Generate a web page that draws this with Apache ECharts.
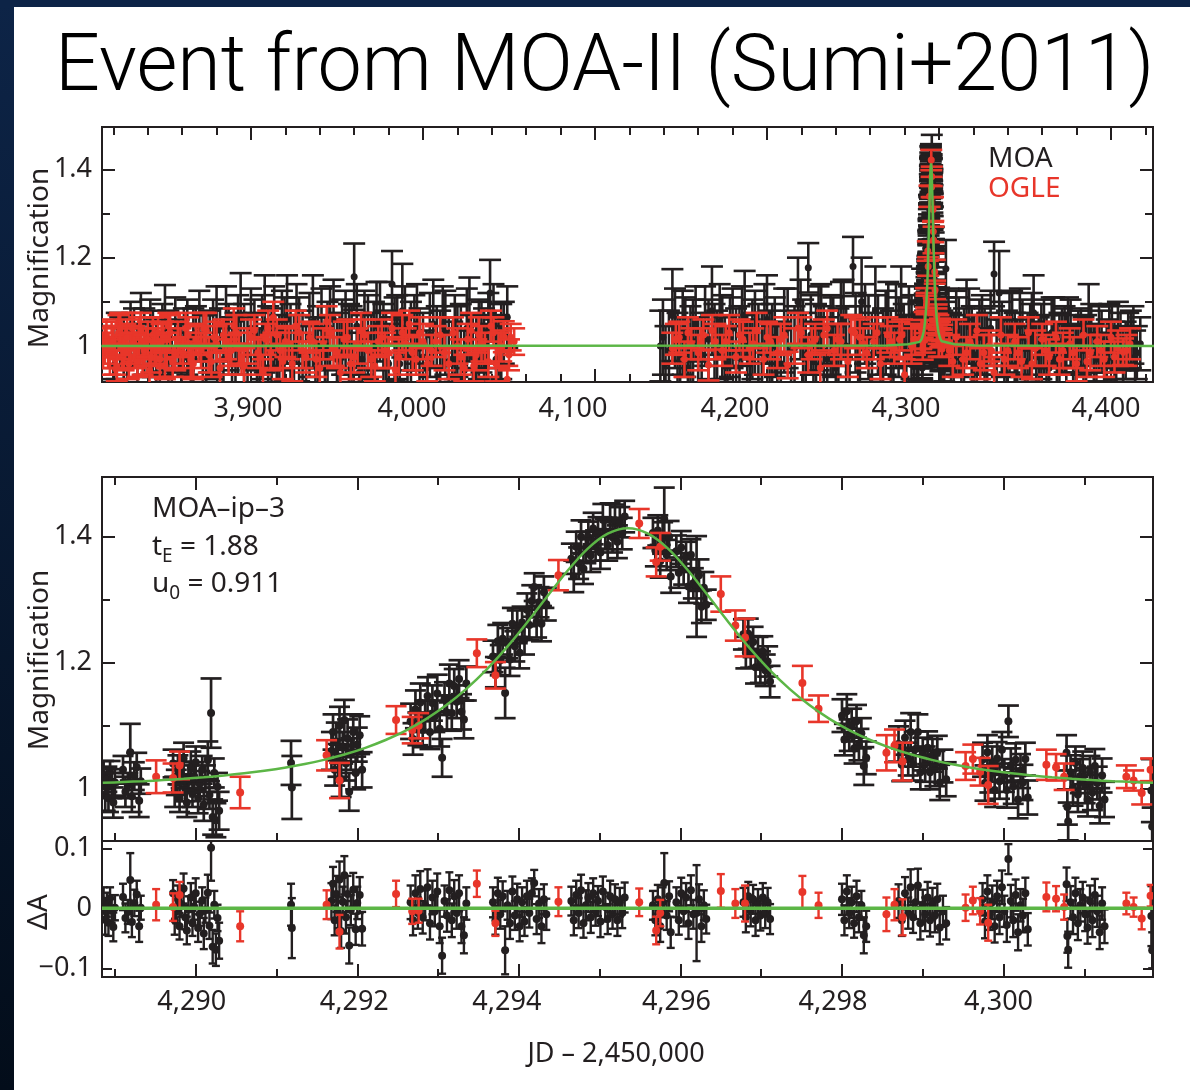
<!DOCTYPE html>
<html>
<head>
<meta charset="utf-8">
<script src="https://cdn.jsdelivr.net/npm/echarts@6.0.0/dist/echarts.min.js"></script>
<style>
html,body{margin:0;padding:0;background:#fff;}
#chart{width:1190px;height:1090px;}
</style>
</head>
<body>
<div id="chart"></div>
<script>
// ---------------- DATA ----------------
// Tick labels
const TOP_X_TICKS = [3900, 4000, 4100, 4200, 4300, 4400];
const TOP_X_LABELS = ['3,900', '4,000', '4,100', '4,200', '4,300', '4,400'];
const TOP_X_MINOR = [3820,3840,3860,3880,3920,3940,3960,3980,4020,4040,4060,4080,4120,4140,4160,4180,4220,4240,4260,4280,4320,4340,4360,4380,4420];
const BOT_X_TICKS = [4290, 4292, 4294, 4296, 4298, 4300];
const BOT_X_LABELS = ['4,290', '4,292', '4,294', '4,296', '4,298', '4,300'];
const BOT_X_MINOR = [4289, 4291, 4293, 4295, 4297, 4299, 4301];
const MAG_TICKS = [1, 1.2, 1.4];
const MAG_LABELS = ['1', '1.2', '1.4'];
const MAG_MINOR = [1.1, 1.3];
const RES_TICKS = [-0.1, 0, 0.1];
const RES_LABELS = ['\u22120.1', '0', '0.1'];

// Full-season MOA (top panel, outside the zoomed event)
const BASE_MOA_T = [
 3820,3824,3828,3832,3836,3840,3843,3847,3850,3854,
 3858,3861,3865,3868,3872,3876,3880,3884,3887,3891,
 3894,3898,3902,3905,3908,3912,3915,3918,3921,3925,
 3928,3932,3936,3939,3943,3946,3950,3953,3957,3960,
 3963,3966,3970,3973,3977,3980,3982,3985,3988,3991,
 3995,3998,4002,4006,4010,4013,4017,4020,4024,4027,
 4031,4034,4037,4039,4041,4044,4047,
 4138,4141,4145,4148,4151,4154,4157,4160,4164,4168,
 4171,4174,4177,4180,4184,4187,4190,4193,4197,4200,
 4203,4206,4210,4214,4218,4221,4224,4227,4230,4233,
 4237,4240,4243,4246,4250,4253,4255,4259,4263,4266,
 4269,4272,4275,4278,4281,4284,4287,4303,4304,4307,
 4310,4313,4316,4319,4322,4325,4328,4332,4335,4338,
 4341,4344,4347,4350,4353,4355,4358,4361,4364,4367,
 4370,4373,4375,4378,4381,4384,4387,4390,4393,4396,
 4399,4402,4404,4407,4410,4413,4415];
const BASE_MOA_A = [
 0.985,1.010,0.970,1.020,1.050,0.990,1.005,0.960,1.040,0.975,
 1.000,1.015,0.955,1.030,0.990,1.010,1.035,0.970,1.020,0.995,
 1.060,0.980,1.025,0.965,1.050,1.000,0.975,1.035,1.060,0.990,
 1.015,0.960,1.055,1.000,0.980,1.040,0.970,1.020,0.995,1.157,
 0.940,1.030,0.985,1.045,1.000,0.960,1.140,1.020,1.080,0.975,
 1.030,0.995,0.950,1.050,0.990,1.030,0.970,1.010,0.945,1.060,
 0.985,1.020,0.960,1.120,1.075,0.990,1.030,
 1.000,0.960,1.070,0.985,1.030,0.950,1.010,0.975,1.045,1.080,
 0.990,1.020,0.960,1.040,0.995,1.070,0.970,1.030,0.985,1.060,
 1.000,0.955,1.035,0.990,1.100,1.010,1.177,0.965,1.040,0.990,
 1.025,0.950,1.050,1.000,1.180,0.975,1.100,1.020,1.080,0.960,
 1.030,0.990,1.045,1.085,0.980,1.020,0.960,1.010,1.175,0.985,
 1.030,0.970,1.060,1.000,0.955,1.025,0.990,1.163,1.120,0.975,
 1.030,0.990,1.045,0.965,1.010,1.075,0.985,1.020,0.950,1.035,
 0.995,1.015,1.040,0.970,1.010,0.990,1.065,0.980,1.015,0.960,
 1.025,0.990,1.035,0.970,1.010,1.025,0.985];
const BASE_MOA_E = [
 0.060,0.055,0.070,0.065,0.070,0.060,0.075,0.060,0.098,0.065,
 0.060,0.070,0.075,0.060,0.080,0.070,0.100,0.070,0.075,0.080,
 0.105,0.085,0.080,0.075,0.110,0.085,0.080,0.090,0.100,0.080,
 0.095,0.085,0.105,0.090,0.085,0.095,0.090,0.085,0.100,0.075,
 0.090,0.095,0.090,0.100,0.095,0.090,0.075,0.095,0.106,0.090,
 0.085,0.090,0.085,0.100,0.090,0.095,0.085,0.080,0.090,0.095,
 0.085,0.080,0.090,0.075,0.065,0.080,0.070,
 0.080,0.085,0.104,0.090,0.095,0.090,0.095,0.090,0.090,0.100,
 0.090,0.095,0.085,0.090,0.095,0.100,0.090,0.095,0.090,0.100,
 0.095,0.090,0.095,0.090,0.100,0.095,0.056,0.090,0.095,0.100,
 0.090,0.095,0.095,0.090,0.067,0.090,0.100,0.095,0.100,0.090,
 0.095,0.090,0.095,0.095,0.090,0.095,0.090,0.090,0.065,0.090,
 0.095,0.090,0.090,0.090,0.085,0.090,0.085,0.073,0.095,0.085,
 0.090,0.085,0.085,0.080,0.085,0.085,0.080,0.085,0.080,0.075,
 0.080,0.075,0.070,0.075,0.070,0.075,0.075,0.070,0.075,0.070,
 0.070,0.065,0.065,0.070,0.065,0.065,0.060];

// More full-season MOA points: [JD, magnification, error]
const MORE_MOA = [
 [3822,1.000,0.075],[3826,0.985,0.080],[3830,1.030,0.070],[3834,0.965,0.085],[3838,1.010,0.075],
 [3841.5,1.040,0.065],[3845,0.975,0.085],[3848.5,1.015,0.080],[3852,0.990,0.090],[3856,1.035,0.075],
 [3859.5,0.960,0.090],[3863,1.020,0.085],[3866.5,0.995,0.090],[3870,1.045,0.080],[3874,0.975,0.095],
 [3878,1.015,0.090],[3882,0.990,0.095],[3885.5,1.050,0.085],[3889,0.965,0.100],[3892.5,1.025,0.090],
 [3896,1.000,0.095],[3900,1.040,0.090],[3903.5,0.975,0.100],[3906.5,1.020,0.095],[3910,0.990,0.100],
 [3913.5,1.045,0.090],[3916.5,0.970,0.100],[3919.5,1.015,0.095],[3923,0.995,0.100],[3926.5,1.050,0.090],
 [3930,0.980,0.100],[3934,1.025,0.095],[3937.5,0.965,0.100],[3941,1.040,0.090],[3944.5,1.000,0.100],
 [3948,1.060,0.090],[3951.5,0.975,0.100],[3955,1.030,0.095],[3958.5,0.990,0.100],[3961.5,1.045,0.095],
 [3964.5,0.970,0.100],[3968,1.020,0.095],[3971.5,1.000,0.100],[3975,1.055,0.090],[3978.5,0.980,0.100],
 [3983.5,1.015,0.095],[3986.5,0.960,0.100],[3989.5,1.040,0.095],[3993,1.000,0.100],[3996.5,1.050,0.090],
 [4000,0.975,0.100],[4004,1.025,0.095],[4008,0.990,0.100],[4011.5,1.045,0.090],[4015,0.965,0.100],
 [4018.5,1.020,0.095],[4022,0.995,0.100],[4025.5,1.040,0.090],[4029,0.975,0.095],[4032.5,1.015,0.090],
 [4035.5,0.990,0.095],[4038,1.035,0.085],[4042.5,0.970,0.090],[4045.5,1.010,0.085],[4049,1.065,0.070],
 [4139.5,1.020,0.085],[4143,0.990,0.090],[4146.5,1.040,0.090],[4149.5,0.970,0.095],[4152.5,1.020,0.090],
 [4155.5,0.995,0.095],[4158.5,1.050,0.085],[4162,0.980,0.095],[4166,1.015,0.090],[4169.5,1.000,0.095],
 [4172.5,1.055,0.085],[4175.5,0.970,0.095],[4178.5,1.020,0.090],[4182,0.990,0.095],[4185.5,1.045,0.090],
 [4188.5,0.975,0.095],[4191.5,1.015,0.090],[4195,1.000,0.095],[4198.5,1.050,0.090],[4201.5,0.985,0.095],
 [4204.5,1.020,0.090],[4208,0.960,0.095],[4212,1.040,0.090],[4216,0.995,0.095],[4219.5,1.060,0.090],
 [4222.5,0.980,0.095],[4225.5,1.025,0.090],[4228.5,1.000,0.095],[4231.5,1.050,0.090],[4235,0.970,0.095],
 [4238.5,1.020,0.090],[4241.5,0.990,0.095],[4244.5,1.060,0.090],[4248,0.975,0.095],[4251.5,1.030,0.090],
 [4254,0.995,0.095],[4257,1.050,0.090],[4261,0.980,0.095],[4264.5,1.025,0.090],[4267.5,0.990,0.095],
 [4270.5,1.055,0.090],[4273.5,0.970,0.095],[4276.5,1.020,0.090],[4279.5,1.000,0.095],[4282.5,1.045,0.090],
 [4285.5,0.975,0.095],[4288,1.010,0.090],[4302,0.990,0.090],[4305.5,1.040,0.090],[4308.5,0.975,0.095],
 [4311.5,1.020,0.090],[4314.5,0.995,0.090],[4317.5,1.045,0.085],[4320.5,0.980,0.090],[4323.5,1.020,0.085],
 [4326.5,0.995,0.090],[4330,1.040,0.085],[4333.5,0.970,0.090],[4336.5,1.015,0.085],[4339.5,0.990,0.090],
 [4342.5,1.040,0.085],[4345.5,0.975,0.085],[4348.5,1.020,0.085],[4351.5,0.995,0.080],[4354,1.035,0.085],
 [4356.5,0.975,0.080],[4359.5,1.010,0.085],[4362.5,0.990,0.080],[4365.5,1.030,0.080],[4368.5,0.970,0.080],
 [4371.5,1.010,0.075],[4374,0.990,0.080],[4376.5,1.030,0.075],[4379.5,0.975,0.075],[4382.5,1.010,0.075],
 [4385.5,0.995,0.075],[4388.5,1.025,0.070],[4391.5,0.970,0.075],[4394.5,1.010,0.070],[4397.5,0.990,0.070],
 [4400.5,1.020,0.070],[4403,0.975,0.070],[4405.5,1.010,0.065],[4408.5,0.990,0.065],[4411.5,1.015,0.065],
 [4414,0.975,0.060],[4417,1.005,0.060]];

// Full-season OGLE (top panel, outside the zoomed event)
const BASE_OGLE_T = [
 3815,3817,3819,3821,3823,3825,3827,3829,3831,3833,
 3835,3837,3839,3841,3843,3845,3848,3850,3853,3856,
 3859,3862,3865,3868,3871,3874,3877,3880,3884,3887,
 3890,3893,3896,3900,3904,3907,3910,3913,3917,3920,
 3924,3928,3932,3936,3940,3944,3948,3952,3956,3960,
 3964,3968,3972,3976,3980,3984,3988,3992,3996,4000,
 4005,4010,4015,4020,4024,4028,4031,4034,4038,4041,
 4044,4047,4049,4051,
 4145,4149,4152,4156,4160,4163,4166,4170,4174,4178,
 4182,4186,4190,4194,4198,4202,4206,4210,4212,4216,
 4220,4224,4228,4231,4235,4239,4243,4247,4251,4254,
 4258,4262,4266,4270,4274,4277,4280,4284,4306,4310,
 4314,4318,4322,4326,4329,4332,4336,4340,4344,4348,
 4352,4356,4360,4364,4368,4372,4376,4380,4384,4388,
 4392,4396,4400,4404,4407,4411];
const BASE_OGLE_A = [
 1.000,0.985,1.015,0.970,1.030,0.995,1.010,0.960,1.040,0.990,
 1.020,0.975,1.005,0.945,1.025,0.990,1.010,0.955,1.030,0.980,
 1.000,1.040,0.970,1.015,0.990,1.035,0.965,1.005,1.025,0.975,
 1.045,0.995,0.955,1.020,0.985,0.940,1.040,1.065,0.990,1.010,
 0.960,1.030,0.975,1.010,0.950,1.055,0.995,0.940,1.020,0.975,
 1.035,0.990,0.955,1.020,0.985,0.945,1.030,1.050,0.970,1.010,
 0.990,1.025,0.960,1.000,0.950,1.035,0.980,1.005,0.965,1.030,
 0.990,1.021,0.925,1.020,
 0.995,1.020,0.970,1.005,0.985,1.025,0.957,1.010,0.990,1.030,
 0.975,1.015,0.995,1.035,0.970,1.010,0.985,1.025,0.957,1.000,
 1.030,0.980,1.015,0.950,1.040,0.990,1.010,0.965,1.030,1.020,
 0.985,1.010,0.960,1.025,0.995,1.015,0.935,1.000,0.990,1.020,
 0.970,1.010,1.035,0.985,1.000,0.940,1.025,0.990,1.010,0.965,
 1.030,0.995,1.015,0.975,1.020,0.990,1.005,0.960,1.025,0.985,
 1.010,0.970,1.020,0.995,0.987,1.005];
const BASE_OGLE_E = [
 0.040,0.035,0.040,0.035,0.040,0.045,0.040,0.035,0.035,0.040,
 0.045,0.040,0.035,0.030,0.040,0.035,0.040,0.030,0.040,0.035,
 0.040,0.035,0.040,0.035,0.040,0.040,0.035,0.040,0.035,0.040,
 0.040,0.035,0.040,0.040,0.035,0.030,0.040,0.035,0.040,0.035,
 0.040,0.040,0.035,0.040,0.040,0.035,0.040,0.035,0.040,0.035,
 0.040,0.040,0.035,0.040,0.035,0.040,0.040,0.030,0.035,0.040,
 0.035,0.040,0.035,0.040,0.030,0.040,0.035,0.040,0.035,0.035,
 0.040,0.035,0.030,0.030,
 0.035,0.035,0.040,0.035,0.040,0.035,0.035,0.040,0.035,0.040,
 0.035,0.040,0.035,0.040,0.035,0.040,0.035,0.040,0.030,0.040,
 0.035,0.040,0.035,0.035,0.040,0.035,0.040,0.035,0.035,0.040,
 0.035,0.040,0.035,0.040,0.035,0.040,0.035,0.040,0.035,0.040,
 0.035,0.040,0.035,0.040,0.035,0.035,0.040,0.035,0.040,0.035,
 0.035,0.040,0.035,0.040,0.035,0.040,0.035,0.040,0.035,0.040,
 0.035,0.040,0.035,0.040,0.030,0.035];

// More full-season OGLE points: [JD, magnification, error]
const MORE_OGLE = [
 [3814,0.990,0.040],[3816,1.025,0.035],[3818,0.975,0.040],[3820,1.010,0.035],[3822,0.955,0.035],
 [3824,1.040,0.035],[3826,0.985,0.040],[3828,1.020,0.040],[3830,0.995,0.035],[3832,1.005,0.040],
 [3834,0.965,0.035],[3836,1.035,0.040],[3838,0.990,0.035],[3840,1.015,0.040],[3842,0.975,0.035],
 [3844,1.000,0.040],[3846,1.030,0.035],[3847,0.970,0.040],[3849,1.020,0.035],[3851,0.990,0.040],
 [3852,1.045,0.030],[3854.5,0.965,0.035],[3857.5,1.015,0.040],[3860.5,0.985,0.035],[3863.5,1.025,0.040],
 [3866.5,0.960,0.035],[3869.5,1.005,0.040],[3872.5,1.040,0.035],[3875.5,0.980,0.040],[3878.5,1.020,0.035],
 [3882,0.950,0.035],[3885.5,1.010,0.040],[3888.5,0.990,0.035],[3891.5,1.030,0.040],[3894.5,0.970,0.035],
 [3898,1.000,0.040],[3902,1.035,0.035],[3905.5,0.975,0.040],[3908.5,1.015,0.035],[3911.5,0.985,0.040],
 [3915,1.025,0.035],[3918.5,0.965,0.040],[3922,1.005,0.035],[3926,1.045,0.035],[3930,0.990,0.040],
 [3934,1.020,0.035],[3938,0.970,0.040],[3942,1.005,0.035],[3946,1.030,0.040],[3950,0.985,0.035],
 [3954,1.015,0.040],[3958,0.960,0.035],[3962,1.000,0.040],[3966,1.025,0.035],[3970,0.970,0.040],
 [3974,1.010,0.035],[3978,0.990,0.040],[3982,1.040,0.035],[3986,0.975,0.040],[3990,1.005,0.035],
 [3994,0.985,0.040],[3998,1.030,0.035],[4002.5,0.960,0.040],[4007.5,1.010,0.035],[4012.5,0.985,0.040],
 [4017.5,1.030,0.035],[4022,0.975,0.040],[4026,1.015,0.035],[4029.5,0.955,0.035],[4032.5,1.025,0.040],
 [4036,0.995,0.035],[4039.5,1.045,0.035],[4042.5,0.960,0.040],[4045.5,1.000,0.035],[4050,0.980,0.035],
 [4053,1.010,0.030],
 [4147,1.015,0.035],[4154,1.030,0.035],[4161.5,1.005,0.035],[4168,1.035,0.035],[4176,1.010,0.035],
 [4184,1.025,0.035],[4192,1.005,0.035],[4200,1.020,0.035],[4208,1.015,0.035],[4218,1.040,0.035],
 [4226,1.005,0.035],[4233,1.025,0.035],[4241,1.015,0.035],[4249,1.035,0.035],[4256,1.005,0.035],
 [4264,1.030,0.035],[4272,1.010,0.035],[4278.5,1.025,0.035],[4286,1.015,0.035],[4308,0.965,0.035],
 [4316,0.985,0.035],[4324,0.960,0.035],[4330.5,0.990,0.035],[4338,0.970,0.035],[4346,0.985,0.035],
 [4354,0.960,0.035],[4362,0.990,0.035],[4370,0.970,0.035],[4378,0.985,0.035],[4386,0.965,0.035],
 [4394,0.990,0.035],[4402,0.975,0.035],[4409,0.990,0.035]];

// Event window, MOA: time, magnification, error, residual
const EV_MOA_T = [
 4288.86,4288.88,4288.90,4288.92,4288.94,4288.96,4288.98,4289.00,
 4289.10,4289.13,4289.16,4289.19,4289.21,4289.24,4289.27,4289.30,4289.32,
 4289.72,4289.74,4289.76,4289.78,4289.80,4289.82,4289.85,4289.87,4289.89,4289.91,4289.94,4289.96,4289.98,4290.00,4290.03,4290.05,4290.08,4290.10,4290.12,4290.15,4290.17,4290.19,4290.21,4290.23,4290.25,4290.27,4290.29,
 4291.18,4291.19,
 4291.68,4291.70,4291.72,4291.74,4291.76,4291.78,4291.80,4291.82,4291.84,4291.86,4291.88,4291.90,4291.92,4291.95,4291.98,4292.00,4292.03,4292.06,
 4292.66,4292.69,4292.72,4292.75,4292.78,4292.81,4292.84,4292.87,4292.90,4292.93,4292.96,4292.99,4293.02,4293.05,4293.08,4293.11,4293.14,4293.17,4293.20,4293.23,4293.26,4293.29,4293.32,4293.35,
 4293.68,4293.71,4293.74,4293.77,4293.80,4293.83,4293.86,4293.89,4293.92,4293.95,4293.98,4294.01,
 4294.04,4294.07,4294.10,4294.13,4294.16,4294.19,4294.22,4294.25,4294.28,4294.31,4294.34,
 4294.65,4294.68,4294.71,4294.74,4294.77,4294.80,4294.83,4294.86,4294.89,4294.92,4294.95,4294.98,4295.01,4295.04,4295.07,4295.10,4295.13,4295.16,4295.19,4295.22,4295.25,4295.28,4295.31,
 4295.66,4295.69,4295.72,4295.75,4295.78,4295.80,4295.83,4295.86,4295.88,
 4295.95,4295.98,4296.01,4296.04,4296.07,4296.10,4296.13,4296.16,4296.20,4296.23,4296.26,4296.29,4296.32,
 4296.78,4296.81,4296.84,4296.87,4296.90,4296.93,4296.96,4296.99,4297.02,4297.05,4297.08,4297.11,
 4298.00,4298.03,4298.06,4298.09,4298.12,4298.15,4298.18,4298.21,4298.24,4298.27,4298.30,
 4298.70,4298.74,4298.78,4298.82,4298.85,4298.88,4298.91,4298.94,4298.97,4299.00,4299.03,4299.06,4299.09,4299.12,4299.15,4299.18,4299.21,4299.25,4299.29,
 4299.74,4299.77,4299.80,4299.83,4299.86,4299.89,4299.92,4299.95,4299.98,4300.01,4300.04,4300.06,4300.09,4300.12,4300.15,4300.18,4300.21,4300.24,4300.27,4300.30,
 4300.78,4300.79,4300.80,4300.83,4300.86,4300.89,4300.92,4300.95,4300.98,4301.01,4301.04,4301.07,4301.10,4301.13,4301.16,4301.19,4301.22,4301.25,4301.83,4301.84];
const EV_MOA_A = [
 1.022,0.990,1.015,0.985,1.026,1.005,0.978,1.010,
 1.030,0.995,1.005,1.058,0.988,1.020,1.034,0.981,1.012,
 1.040,0.995,1.010,1.030,0.985,1.022,1.048,1.000,0.978,1.015,1.035,0.992,1.020,1.042,0.984,1.008,1.030,0.975,1.016,1.045,0.990,1.120,0.955,1.025,0.950,1.003,0.965,
 1.041,1.002,
 1.060,1.090,1.030,1.075,1.045,1.100,1.015,1.065,1.109,1.040,1.080,0.995,1.055,1.090,1.025,1.070,1.085,1.030,
 1.107,1.079,1.126,1.095,1.137,1.093,1.115,1.147,1.090,1.136,1.115,1.151,1.095,1.049,1.143,1.121,1.167,1.120,1.163,1.138,1.174,1.122,1.110,1.167,
 1.210,1.185,1.234,1.204,1.238,1.152,1.231,1.205,1.262,1.226,1.257,1.216,
 1.264,1.237,1.284,1.260,1.298,1.320,1.265,1.296,1.262,1.312,1.293,
 1.365,1.337,1.384,1.358,1.400,1.349,1.383,1.400,1.370,1.413,1.386,1.406,1.375,1.427,1.404,1.387,1.427,1.399,1.426,1.392,1.423,1.405,1.432,
 1.406,1.378,1.410,1.361,1.398,1.428,1.371,1.400,1.337,
 1.377,1.343,1.383,1.349,1.368,1.321,1.371,1.326,1.321,1.339,1.289,1.319,1.292,
 1.245,1.216,1.246,1.217,1.233,1.193,1.217,1.193,1.218,1.188,1.202,1.170,
 1.116,1.078,1.123,1.085,1.101,1.064,1.107,1.070,1.088,1.036,1.049,
 1.071,1.038,1.081,1.047,1.090,1.039,1.063,1.090,1.026,1.055,1.039,1.065,1.026,1.053,1.032,1.058,1.010,1.036,1.015,
 1.046,1.009,1.058,1.020,1.039,0.998,1.048,1.012,1.062,1.021,0.998,1.107,1.037,1.004,1.046,0.983,1.028,1.010,1.047,0.986,
 1.057,0.971,0.948,1.026,1.001,1.041,0.991,1.020,1.033,1.005,0.983,1.026,0.994,1.036,1.009,0.973,1.021,0.983,0.997,0.940];
const EV_MOA_E = [
 0.022,0.025,0.020,0.022,0.018,0.020,0.024,0.021,
 0.022,0.024,0.020,0.045,0.025,0.022,0.023,0.026,0.020,
 0.022,0.024,0.020,0.023,0.022,0.021,0.025,0.020,0.023,0.022,0.024,0.021,0.022,0.025,0.023,0.020,0.022,0.026,0.021,0.030,0.022,0.055,0.028,0.023,0.027,0.022,0.030,
 0.035,0.050,
 0.030,0.028,0.025,0.030,0.026,0.030,0.028,0.025,0.032,0.027,0.030,0.030,0.025,0.028,0.026,0.027,0.030,0.028,
 0.028,0.025,0.030,0.026,0.030,0.027,0.025,0.030,0.027,0.028,0.025,0.030,0.028,0.030,0.026,0.027,0.030,0.028,0.027,0.026,0.030,0.028,0.030,0.027,
 0.025,0.024,0.026,0.024,0.025,0.040,0.024,0.026,0.025,0.024,0.026,0.025,
 0.025,0.024,0.026,0.024,0.025,0.022,0.025,0.024,0.028,0.025,0.026,
 0.024,0.025,0.024,0.025,0.026,0.024,0.025,0.024,0.026,0.025,0.024,0.025,0.026,0.025,0.024,0.025,0.026,0.024,0.025,0.026,0.024,0.025,0.025,
 0.024,0.025,0.024,0.026,0.025,0.050,0.024,0.025,0.026,
 0.025,0.024,0.026,0.025,0.024,0.026,0.025,0.024,0.080,0.025,0.026,0.025,0.024,
 0.024,0.025,0.024,0.025,0.024,0.026,0.024,0.025,0.024,0.025,0.024,0.025,
 0.026,0.025,0.027,0.025,0.026,0.024,0.026,0.025,0.024,0.030,0.026,
 0.028,0.026,0.027,0.026,0.030,0.026,0.028,0.028,0.027,0.026,0.028,0.026,0.027,0.026,0.028,0.026,0.028,0.026,0.027,
 0.027,0.028,0.027,0.026,0.028,0.027,0.026,0.028,0.028,0.026,0.028,0.025,0.027,0.028,0.026,0.030,0.027,0.028,0.026,0.027,
 0.028,0.028,0.030,0.027,0.028,0.026,0.028,0.027,0.026,0.028,0.027,0.026,0.028,0.027,0.026,0.028,0.027,0.028,0.050,0.030];
const EV_MOA_R = [
 0.013,-0.019,0.006,-0.024,0.017,-0.004,-0.031,0.001,
 0.019,-0.016,-0.006,0.047,-0.023,0.009,0.023,-0.030,0.001,
 0.025,-0.020,-0.005,0.015,-0.030,0.007,0.033,-0.015,-0.037,-0.002,0.018,-0.025,0.003,0.025,-0.033,-0.009,0.013,-0.042,-0.003,0.026,-0.029,0.101,-0.064,0.006,-0.069,-0.016,-0.054,
 0.006,-0.033,
 0.012,0.041,-0.020,0.024,-0.007,0.048,-0.038,0.011,0.055,-0.015,0.024,-0.062,-0.003,0.031,-0.035,0.009,0.022,-0.034,
 0.010,-0.020,0.025,-0.008,0.032,-0.015,0.005,0.035,-0.025,0.018,-0.005,0.028,-0.030,-0.079,0.012,-0.012,0.030,-0.020,0.020,-0.008,0.025,-0.030,-0.045,0.008,
 0.010,-0.020,0.025,-0.010,0.020,-0.070,0.005,-0.025,0.028,-0.012,0.015,-0.030,
 0.010,-0.022,0.020,-0.008,0.025,0.042,-0.018,0.008,-0.030,0.015,-0.010,
 0.012,-0.020,0.022,-0.008,0.030,-0.025,0.005,0.018,-0.015,0.025,-0.005,0.012,-0.022,0.028,0.002,-0.018,0.020,-0.010,0.015,-0.020,0.010,-0.008,0.018,
 0.005,-0.020,0.015,-0.030,0.010,0.042,-0.012,0.020,-0.040,
 0.010,-0.020,0.025,-0.005,0.018,-0.025,0.030,-0.010,-0.008,0.015,-0.030,0.005,-0.018,
 0.010,-0.015,0.020,-0.005,0.015,-0.020,0.008,-0.012,0.018,-0.008,0.010,-0.018,
 0.015,-0.020,0.028,-0.008,0.010,-0.025,0.020,-0.015,0.005,-0.045,-0.030,
 0.012,-0.020,0.025,-0.008,0.035,-0.015,0.010,0.038,-0.025,0.005,-0.010,0.018,-0.020,0.008,-0.012,0.015,-0.032,-0.005,-0.025,
 0.015,-0.022,0.028,-0.010,0.010,-0.030,0.020,-0.015,0.035,-0.005,-0.028,0.082,0.012,-0.020,0.022,-0.040,0.005,-0.012,0.025,-0.035,
 0.040,-0.046,-0.069,0.010,-0.015,0.025,-0.025,0.005,0.018,-0.010,-0.032,0.012,-0.020,0.022,-0.005,-0.040,0.008,-0.030,-0.013,-0.070];

// Event window, OGLE
const EV_OGLE_T = [4289.51,4289.72,4289.80,4290.55,4291.62,4291.78,4292.48,4292.68,4292.76,4293.48,4293.71,4294.49,4295.49,4295.70,4295.75,4296.50,4296.68,4296.80,4297.51,4297.71,4298.55,4298.65,4298.75,4299.53,4299.62,4299.71,4299.81,4300.53,4300.65,4300.75,4301.52,4301.61,4301.71,4301.82];
const EV_OGLE_A = [1.019,1.017,1.037,0.994,1.053,1.013,1.109,1.093,1.100,1.215,1.180,1.339,1.421,1.360,1.384,1.309,1.259,1.240,1.168,1.127,1.057,1.068,1.043,1.036,1.047,1.027,1.006,1.038,1.034,1.019,1.019,1.013,0.993,1.030];
const EV_OGLE_E = [0.026,0.023,0.022,0.025,0.024,0.028,0.022,0.021,0.020,0.022,0.021,0.024,0.023,0.023,0.022,0.028,0.024,0.030,0.027,0.021,0.028,0.026,0.030,0.022,0.023,0.022,0.030,0.024,0.021,0.021,0.018,0.016,0.018,0.018];
const EV_OGLE_R = [0.006,0.002,0.022,-0.030,0.006,-0.039,0.024,-0.005,-0.004,0.041,-0.025,0.011,0.010,-0.037,-0.008,0.029,0.008,0.008,0.027,0.005,-0.010,0.006,-0.015,0.001,0.013,-0.005,-0.024,0.019,0.016,0.002,0.008,0.002,-0.017,0.021];

// Model light curve (green), every 0.25 d
const MODEL_T = [
 4288.85,4289.10,4289.35,4289.60,4289.85,4290.10,4290.35,4290.60,4290.85,4291.10,
 4291.35,4291.60,4291.85,4292.10,4292.35,4292.60,4292.85,4293.10,4293.35,4293.60,
 4293.85,4294.10,4294.35,4294.60,4294.85,4295.10,4295.35,4295.60,4295.85,4296.10,
 4296.35,4296.60,4296.85,4297.10,4297.35,4297.60,4297.85,4298.10,4298.35,4298.60,
 4298.85,4299.10,4299.35,4299.60,4299.85,4300.10,4300.35,4300.60,4300.85,4301.10,
 4301.35,4301.60,4301.85];
const MODEL_A = [
 1.0093,1.0106,1.0120,1.0137,1.0158,1.0182,1.0210,1.0244,1.0285,1.0333,
 1.0391,1.0462,1.0546,1.0649,1.0773,1.0923,1.1105,1.1324,1.1585,1.1890,
 1.2243,1.2635,1.3050,1.3456,1.3807,1.4048,1.4135,1.4048,1.3807,1.3456,
 1.3050,1.2635,1.2243,1.1890,1.1585,1.1324,1.1105,1.0923,1.0773,1.0649,
 1.0546,1.0462,1.0391,1.0333,1.0285,1.0244,1.0210,1.0182,1.0158,1.0137,
 1.0120,1.0106,1.0093];
const WING_BEFORE_T = [3813, 4270, 4282];
const WING_BEFORE_A = [1.000, 1.001, 1.004];
const WING_AFTER_T = [4309, 4321, 4425];
const WING_AFTER_A = [1.004, 1.001, 1.000];
const RES_ZERO_T = [4288.84, 4301.85];
const RES_ZERO_V = [0, 0];

// ---------------- STYLE / LAYOUT ----------------
const INK = '#231f20', RED = '#e8362a', GREEN = '#5cb646';
const FONT = "'Noto Sans', 'Open Sans', sans-serif";
const TOPX = [3813.4, 4424.4], BOTX = [4288.84, 4301.85];
const TOPY = [0.9185, 1.4958], MIDY = [0.917, 1.4948], RESY = [-0.1145, 0.1122];
const TOP_LABEL_NUDGE = [-3, -11, -22, -32, -33, -5];
const BOT_LABEL_NUDGE = [-4, -3, -12, -4, -9, -5];

const zip3 = (a, b, c) => a.map((v, i) => [v, b[i], c[i]]);
const zip2 = (a, b) => a.map((v, i) => [v, b[i]]);

function errBars(color, capHalf, r, lw) {
  return function (params, api) {
    const t = api.value(0), a = api.value(1), e = api.value(2);
    const c = api.coord([t, a]), hi = api.coord([t, a + e]), lo = api.coord([t, a - e]);
    return {
      type: 'group',
      children: [
        {type: 'line', shape: {x1: c[0], y1: hi[1], x2: c[0], y2: lo[1]}, style: {stroke: color, lineWidth: lw}},
        {type: 'line', shape: {x1: c[0] - capHalf, y1: hi[1], x2: c[0] + capHalf, y2: hi[1]}, style: {stroke: color, lineWidth: lw}},
        {type: 'line', shape: {x1: c[0] - capHalf, y1: lo[1], x2: c[0] + capHalf, y2: lo[1]}, style: {stroke: color, lineWidth: lw}},
        {type: 'circle', shape: {cx: c[0], cy: c[1], r: r}, style: {fill: color}}
      ]
    };
  };
}

function tickAxis(gridIndex, position, range, vals, len, label) {
  return {
    type: 'value', gridIndex, position, min: range[0], max: range[1],
    axisLine: {show: false, onZero: false},
    splitLine: {show: false},
    minorTick: {show: false},
    axisTick: {show: true, inside: true, length: len, customValues: vals, lineStyle: {color: INK, width: 2}},
    axisLabel: label || {show: false}
  };
}
function nudgedLabels(vals, labels, nudges, margin) {
  const rich = {};
  nudges.forEach((s, i) => {
    rich['k' + i] = {fontSize: 27, fontFamily: FONT, color: INK,
      padding: [0, Math.max(0, -2 * s), 0, Math.max(0, 2 * s)]};
  });
  return {
    show: true, customValues: vals, margin, fontSize: 27, fontFamily: FONT, color: INK,
    formatter: v => { const i = vals.findIndex(x => Math.abs(x - v) < 1e-6); return '{k' + i + '|' + labels[i] + '}'; },
    rich
  };
}
function yLabels(vals, labels) {
  return {
    show: true, customValues: vals, margin: 10, fontSize: 27, fontFamily: FONT, color: INK,
    formatter: v => { const i = vals.findIndex(x => Math.abs(x - v) < 1e-6); return labels[i]; }
  };
}

const xAxis = [
  tickAxis(0, 'bottom', TOPX, TOP_X_TICKS, 13, nudgedLabels(TOP_X_TICKS, TOP_X_LABELS, TOP_LABEL_NUDGE, 14)), // 0
  tickAxis(0, 'bottom', TOPX, TOP_X_MINOR, 8),
  tickAxis(0, 'top', TOPX, TOP_X_TICKS, 13),
  tickAxis(0, 'top', TOPX, TOP_X_MINOR, 8),
  tickAxis(1, 'bottom', BOTX, BOT_X_TICKS, 13), // 4
  tickAxis(1, 'bottom', BOTX, BOT_X_MINOR, 8),
  tickAxis(1, 'top', BOTX, BOT_X_TICKS, 13),
  tickAxis(1, 'top', BOTX, BOT_X_MINOR, 8),
  tickAxis(2, 'bottom', BOTX, BOT_X_TICKS, 13, nudgedLabels(BOT_X_TICKS, BOT_X_LABELS, BOT_LABEL_NUDGE, 12)), // 8
  tickAxis(2, 'bottom', BOTX, BOT_X_MINOR, 8)
];
const yAxis = [
  tickAxis(0, 'left', TOPY, MAG_TICKS, 13, yLabels(MAG_TICKS, MAG_LABELS)), // 0
  tickAxis(0, 'left', TOPY, MAG_MINOR, 8),
  tickAxis(0, 'right', TOPY, MAG_TICKS, 13),
  tickAxis(0, 'right', TOPY, MAG_MINOR, 8),
  tickAxis(1, 'left', MIDY, MAG_TICKS, 13, yLabels(MAG_TICKS, MAG_LABELS)), // 4
  tickAxis(1, 'left', MIDY, MAG_MINOR, 8),
  tickAxis(1, 'right', MIDY, MAG_TICKS, 13),
  tickAxis(1, 'right', MIDY, MAG_MINOR, 8),
  tickAxis(2, 'left', RESY, RES_TICKS, 10, yLabels(RES_TICKS, RES_LABELS)), // 8
  tickAxis(2, 'right', RESY, RES_TICKS, 10)
];

const topMoa = zip3(BASE_MOA_T, BASE_MOA_A, BASE_MOA_E).concat(MORE_MOA, zip3(EV_MOA_T, EV_MOA_A, EV_MOA_E));
const topOgle = zip3(BASE_OGLE_T, BASE_OGLE_A, BASE_OGLE_E).concat(MORE_OGLE, zip3(EV_OGLE_T, EV_OGLE_A, EV_OGLE_E));
const topModel = zip2(WING_BEFORE_T, WING_BEFORE_A).concat(zip2(MODEL_T, MODEL_A), zip2(WING_AFTER_T, WING_AFTER_A));

function custom(name, data, xi, yi, renderer) {
  return {type: 'custom', name, xAxisIndex: xi, yAxisIndex: yi, data, clip: true,
    dimensions: ['t', 'v', 'e'], encode: {x: 0, y: 1}, renderItem: renderer, silent: true};
}

const gridStyle = {show: true, borderColor: INK, borderWidth: 2, backgroundColor: 'transparent'};

const option = {
  backgroundColor: '#ffffff',
  animation: false,
  grid: [
    Object.assign({left: 102, top: 127, width: 1051, height: 255}, gridStyle),
    Object.assign({left: 102, top: 477, width: 1051, height: 364}, gridStyle),
    Object.assign({left: 102, top: 841, width: 1051, height: 136}, gridStyle)
  ],
  xAxis, yAxis,
  series: [
    custom('MOA', topMoa, 0, 0, errBars(INK, 11, 3.5, 2.6)),
    custom('OGLE', topOgle, 0, 0, errBars(RED, 11, 3.5, 2.6)),
    {type: 'line', xAxisIndex: 0, yAxisIndex: 0, data: topModel, showSymbol: false, symbol: 'none',
      lineStyle: {color: GREEN, width: 2.5}, silent: true},

    custom('MOA', zip3(EV_MOA_T, EV_MOA_A, EV_MOA_E), 4, 4, errBars(INK, 10.5, 4, 2.7)),
    custom('OGLE', zip3(EV_OGLE_T, EV_OGLE_A, EV_OGLE_E), 4, 4, errBars(RED, 10.5, 4, 2.6)),
    {type: 'line', xAxisIndex: 4, yAxisIndex: 4, data: zip2(MODEL_T, MODEL_A), showSymbol: false, symbol: 'none',
      smooth: 0.3, lineStyle: {color: GREEN, width: 2.5}, silent: true},

    custom('MOA', zip3(EV_MOA_T, EV_MOA_R, EV_MOA_E), 8, 8, errBars(INK, 4, 4, 2.4)),
    custom('OGLE', zip3(EV_OGLE_T, EV_OGLE_R, EV_OGLE_E), 8, 8, errBars(RED, 4, 4, 2.4)),
    {type: 'line', xAxisIndex: 8, yAxisIndex: 8, data: zip2(RES_ZERO_T, RES_ZERO_V), showSymbol: false, symbol: 'none',
      lineStyle: {color: GREEN, width: 3.5}, silent: true}
  ],
  graphic: [
    {type: 'rect', z: -10, shape: {x: 0, y: 0, width: 14, height: 1090},
      style: {fill: new echarts.graphic.LinearGradient(0, 0, 0, 1, [{offset: 0, color: '#0d2447'}, {offset: 1, color: '#030d1a'}])}},
    {type: 'rect', z: -10, shape: {x: 0, y: 0, width: 1190, height: 7}, style: {fill: '#0d2447'}},
    {type: 'text', x: 55, y: 70, style: {text: 'Event from MOA-II (Sumi+2011)', fontFamily: "Roboto, 'Liberation Sans', sans-serif",
      fontWeight: 300, fontSize: 79, fill: '#000', verticalAlign: 'middle', align: 'left'}},
    {type: 'text', x: 988, y: 159, style: {text: 'MOA', fontFamily: FONT, fontSize: 28, fill: INK, verticalAlign: 'middle'}},
    {type: 'text', x: 988, y: 189, style: {text: 'OGLE', fontFamily: FONT, fontSize: 28, fill: RED, verticalAlign: 'middle'}},
    {type: 'text', x: 152, y: 509, style: {text: 'MOA\u2013ip\u20133', fontFamily: FONT, fontSize: 28, fill: INK, verticalAlign: 'middle'}},
    {type: 'text', x: 152, y: 547, style: {text: 't{s|E} = 1.88', fontFamily: FONT, fontSize: 28, fill: INK, verticalAlign: 'middle',
      rich: {s: {fontFamily: FONT, fontSize: 19, fill: INK, padding: [20, 0, 0, 0]}}}},
    {type: 'text', x: 152, y: 584, style: {text: 'u{s|0} = 0.911', fontFamily: FONT, fontSize: 28, fill: INK, verticalAlign: 'middle',
      rich: {s: {fontFamily: FONT, fontSize: 19, fill: INK, padding: [20, 0, 0, 0]}}}},
    {type: 'text', x: 40, y: 258, rotation: Math.PI / 2, style: {text: 'Magnification', fontFamily: FONT, fontSize: 28, fill: INK, align: 'center', verticalAlign: 'middle'}},
    {type: 'text', x: 40, y: 660, rotation: Math.PI / 2, style: {text: 'Magnification', fontFamily: FONT, fontSize: 28, fill: INK, align: 'center', verticalAlign: 'middle'}},
    {type: 'text', x: 39, y: 912, rotation: Math.PI / 2, style: {text: '\u0394A', fontFamily: FONT, fontSize: 28, fill: INK, align: 'center', verticalAlign: 'middle'}},
    {type: 'text', x: 616, y: 1054, style: {text: 'JD \u2013 2,450,000', fontFamily: FONT, fontSize: 27, fill: INK, align: 'center', verticalAlign: 'middle'}}
  ]
};

const chart = echarts.init(document.getElementById('chart'), null, {renderer: 'canvas'});
chart.setOption(option);
</script>
</body>
</html>
